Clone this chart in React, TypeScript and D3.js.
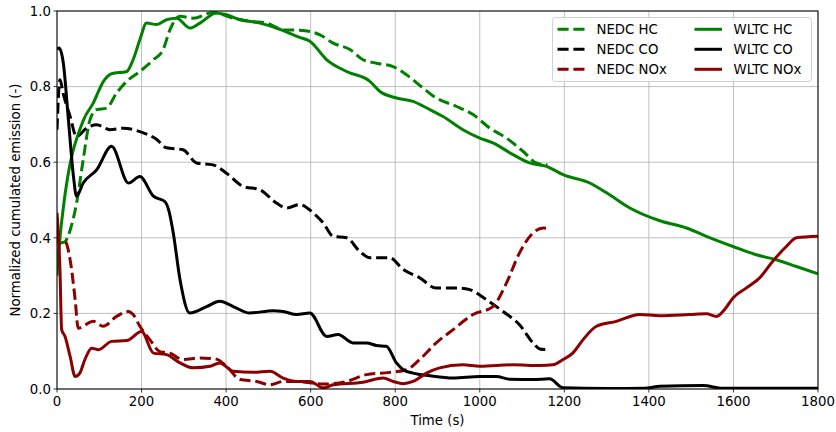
import React from "react";
import * as d3 from "d3";

type P = [number, number];

const xTicks = [0, 200, 400, 600, 800, 1000, 1200, 1400, 1600, 1800];
const yTicks = [0, 0.2, 0.4, 0.6, 0.8, 1.0];

const nedcHC: P[] = [
  [0, 0.34], [7, 0.385], [19, 0.39], [31, 0.42], [46, 0.49], [62, 0.607], [78, 0.712], [94, 0.739], [117, 0.743],
  [141, 0.783], [165, 0.814], [196, 0.84], [228, 0.871], [251, 0.898], [267, 0.95], [283, 0.981], [291, 0.986],
  [322, 0.981], [369, 0.996], [417, 0.981], [464, 0.972], [496, 0.968], [535, 0.95], [574, 0.949], [622, 0.937],
  [653, 0.915], [693, 0.898], [724, 0.871], [756, 0.862], [795, 0.853], [827, 0.831], [866, 0.796], [897, 0.77],
  [944, 0.748], [984, 0.726], [1024, 0.69], [1063, 0.664], [1102, 0.629], [1134, 0.598], [1160, 0.593],
];
const nedcCO: P[] = [
  [0, 0.686], [7, 0.818], [15, 0.78], [31, 0.721], [46, 0.668], [70, 0.69], [94, 0.699], [125, 0.686],
  [157, 0.69], [196, 0.681], [236, 0.66], [259, 0.638], [298, 0.633], [330, 0.598], [369, 0.593], [401, 0.571],
  [440, 0.536], [480, 0.527], [519, 0.492], [543, 0.479], [574, 0.488], [606, 0.466], [630, 0.439], [653, 0.404],
  [685, 0.4], [716, 0.364], [740, 0.347], [787, 0.347], [819, 0.316], [858, 0.294], [897, 0.267], [953, 0.267],
  [976, 0.263], [1016, 0.236], [1055, 0.205], [1094, 0.17], [1126, 0.122], [1142, 0.106], [1160, 0.104],
];
const nedcNOx: P[] = [
  [0, 0.45], [3, 0.386], [19, 0.39], [31, 0.342], [43, 0.236], [50, 0.161], [86, 0.179], [109, 0.166],
  [141, 0.192], [169, 0.205], [180, 0.197], [196, 0.166], [220, 0.13], [243, 0.099], [267, 0.095], [298, 0.078],
  [338, 0.082], [377, 0.079], [401, 0.06], [433, 0.025], [472, 0.02], [504, 0.011], [535, 0.02], [567, 0.02],
  [630, 0.013], [685, 0.02], [732, 0.038], [787, 0.044], [827, 0.051], [858, 0.078], [897, 0.122], [937, 0.157],
  [984, 0.197], [1031, 0.218], [1063, 0.28], [1094, 0.36], [1126, 0.413], [1150, 0.426], [1160, 0.425],
];
const wltcHC: P[] = [
  [0, 0.3], [7, 0.4], [15, 0.48], [62, 0.71], [86, 0.757], [110, 0.814], [129, 0.834], [165, 0.84], [180, 0.871],
  [196, 0.924], [212, 0.968], [236, 0.964], [259, 0.977], [283, 0.981], [314, 0.955], [338, 0.968], [377, 0.995],
  [401, 0.99], [433, 0.977], [480, 0.968], [519, 0.955], [574, 0.93], [598, 0.92], [638, 0.871], [685, 0.84],
  [740, 0.814], [764, 0.787], [803, 0.77], [842, 0.761], [882, 0.739], [913, 0.721], [960, 0.686], [1000, 0.664],
  [1031, 0.651], [1079, 0.62], [1118, 0.598], [1158, 0.589], [1197, 0.567], [1260, 0.545], [1300, 0.519],
  [1355, 0.479], [1426, 0.445], [1489, 0.426], [1536, 0.404], [1599, 0.377], [1654, 0.355], [1701, 0.342],
  [1749, 0.324], [1800, 0.305],
];
const wltcCO: P[] = [
  [0, 0.898], [5, 0.902], [15, 0.862], [27, 0.712], [39, 0.562], [46, 0.51], [62, 0.545], [94, 0.58], [129, 0.642],
  [169, 0.545], [196, 0.562], [228, 0.51], [255, 0.496], [265, 0.47], [275, 0.413], [291, 0.289], [314, 0.201],
  [354, 0.218], [385, 0.232], [417, 0.218], [456, 0.201], [511, 0.207], [535, 0.205], [567, 0.197], [598, 0.201],
  [638, 0.139], [665, 0.144], [700, 0.122], [732, 0.122], [756, 0.115], [779, 0.113], [803, 0.069], [819, 0.051],
  [842, 0.042], [882, 0.035], [937, 0.029], [1000, 0.033], [1039, 0.033], [1071, 0.026], [1126, 0.025],
  [1165, 0.027], [1197, 0.003], [1300, 0.001], [1390, 0.002], [1426, 0.007], [1528, 0.009], [1575, 0.002],
  [1700, 0.002], [1800, 0.002],
];
const wltcNOx: P[] = [
  [0, 0.466], [7, 0.316], [11, 0.157], [19, 0.139], [31, 0.086], [43, 0.033], [54, 0.042], [66, 0.078],
  [82, 0.108], [98, 0.104], [129, 0.126], [165, 0.128], [200, 0.152], [228, 0.095], [259, 0.091], [291, 0.069],
  [322, 0.056], [362, 0.06], [385, 0.069], [417, 0.047], [464, 0.044], [504, 0.047], [535, 0.029], [567, 0.02],
  [598, 0.02], [630, 0.003], [653, 0.011], [724, 0.018], [772, 0.029], [795, 0.02], [819, 0.014], [842, 0.02],
  [874, 0.042], [905, 0.056], [960, 0.064], [1000, 0.06], [1079, 0.064], [1142, 0.062], [1173, 0.064],
  [1197, 0.078], [1220, 0.095], [1244, 0.13], [1276, 0.166], [1323, 0.179], [1378, 0.197], [1426, 0.194],
  [1496, 0.197], [1536, 0.199], [1560, 0.192], [1579, 0.21], [1599, 0.241], [1630, 0.267], [1662, 0.294],
  [1693, 0.338], [1725, 0.377], [1749, 0.4], [1800, 0.404],
];

const GREEN = "#008000";
const BLACK = "#000000";
const RED = "#8b0000";

const series = [
  { name: "NEDC HC", data: nedcHC, color: GREEN, dashed: true },
  { name: "NEDC CO", data: nedcCO, color: BLACK, dashed: true },
  { name: "NEDC NOx", data: nedcNOx, color: RED, dashed: true },
  { name: "WLTC HC", data: wltcHC, color: GREEN, dashed: false },
  { name: "WLTC CO", data: wltcCO, color: BLACK, dashed: false },
  { name: "WLTC NOx", data: wltcNOx, color: RED, dashed: false },
];

const W = 836, H = 432;
const M = { left: 57, right: 818, top: 11, bottom: 389 };
const FONT = "DejaVu Sans, sans-serif";
const FS = 13.3;

export default function App() {
  const x = d3.scaleLinear().domain([0, 1800]).range([M.left, M.right]);
  const y = d3.scaleLinear().domain([0, 1]).range([M.bottom, M.top]);
  const line = d3
    .line<P>()
    .x((d) => x(d[0]))
    .y((d) => y(d[1]))
    .curve(d3.curveMonotoneX);
  const LW = 3;
  const dash = "11.1,4.8";
  const legX = 552.5, legY = 17.5;
  return (
    <svg width={W} height={H} style={{ position: "absolute", left: 0, top: 0 }}>
      <rect x={0} y={0} width={W} height={H} fill="#fff" />
      <defs>
        <clipPath id="plot">
          <rect x={M.left} y={M.top} width={M.right - M.left} height={M.bottom - M.top} />
        </clipPath>
      </defs>
      {xTicks.map((t) => (
        <line key={"gx" + t} x1={x(t)} x2={x(t)} y1={M.top} y2={M.bottom} stroke="#b0b0b0" strokeWidth={0.8} />
      ))}
      {yTicks.map((t) => (
        <line key={"gy" + t} x1={M.left} x2={M.right} y1={y(t)} y2={y(t)} stroke="#b0b0b0" strokeWidth={0.8} />
      ))}
      <g clipPath="url(#plot)">
        {series.map((s) => (
          <path
            key={s.name}
            d={line(s.data) || ""}
            fill="none"
            stroke={s.color}
            strokeWidth={LW}
            strokeDasharray={s.dashed ? dash : undefined}
            strokeLinejoin="round"
          />
        ))}
      </g>
      <rect x={M.left} y={M.top} width={M.right - M.left} height={M.bottom - M.top} fill="none" stroke="#000" strokeWidth={1} />
      {xTicks.map((t) => (
        <g key={"tx" + t}>
          <line x1={x(t)} x2={x(t)} y1={M.bottom} y2={M.bottom + 3.5} stroke="#000" strokeWidth={0.8} />
          <text x={x(t)} y={M.bottom + 17} textAnchor="middle" fontFamily={FONT} fontSize={FS} fill="#000">
            {t}
          </text>
        </g>
      ))}
      {yTicks.map((t) => (
        <g key={"ty" + t}>
          <line x1={M.left - 3.5} x2={M.left} y1={y(t)} y2={y(t)} stroke="#000" strokeWidth={0.8} />
          <text x={M.left - 6} y={y(t) + 4.8} textAnchor="end" fontFamily={FONT} fontSize={FS} fill="#000">
            {t.toFixed(1)}
          </text>
        </g>
      ))}
      <text x={(M.left + M.right) / 2} y={425} textAnchor="middle" fontFamily={FONT} fontSize={FS} fill="#000">
        Time (s)
      </text>
      <text
        transform={`translate(20,${(M.top + M.bottom) / 2}) rotate(-90)`}
        textAnchor="middle"
        fontFamily={FONT}
        fontSize={FS}
        fill="#000"
      >
        Normalized cumulated emission (-)
      </text>
      <rect x={legX} y={legY} width={259} height={64} rx={3} fill="#fff" fillOpacity={0.8} stroke="#d0d0d0" strokeWidth={1} />
      {series.map((s, i) => {
        const col = Math.floor(i / 3);
        const row = i % 3;
        const lx = legX + 5 + col * 137;
        const ly = legY + 11.8 + row * 20;
        return (
          <g key={"lg" + s.name}>
            <line x1={lx} x2={lx + 27.5} y1={ly} y2={ly} stroke={s.color} strokeWidth={LW} strokeDasharray={s.dashed ? dash : undefined} />
            <text x={lx + 39} y={ly + 4.8} fontFamily={FONT} fontSize={FS} fill="#000">
              {s.name}
            </text>
          </g>
        );
      })}
    </svg>
  );
}
